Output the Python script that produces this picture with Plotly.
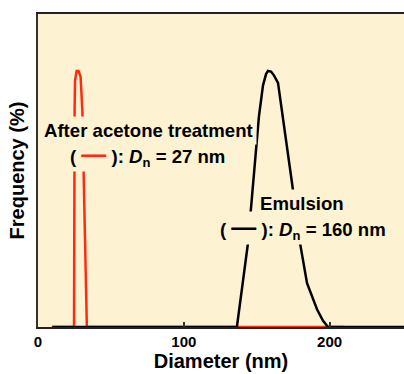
import plotly.graph_objects as go

# Data
acetone_x = [9.5, 24.7, 25.1, 25.4, 26.5, 27.8, 29.2, 30.4, 33.5, 210]
acetone_y = [0, 0, 17.3, 19.7, 20.45, 20.45, 20.0, 17.3, 0, 0]

emulsion_x = [9.8, 136.4, 144.0, 147.4, 151.5, 154.3, 156.4, 157.7, 159.8, 161.8,
              164.6, 174.2, 179.7, 184.5, 191.4, 195.5, 198.9, 251]
emulsion_y = [0, 0, 6.7, 11.5, 16.8, 19.3, 20.2, 20.45, 20.4, 20.1,
              19.5, 11.5, 6.7, 3.5, 1.4, 0.5, 0, 0]

tick_vals = [0, 100, 200]
tick_text = ["0", "100", "200"]

BG = "#fdf3d2"
RED = "#ff2a12"
FONT = "Liberation Sans, Arial, sans-serif"
AFS = 18.6

fig = go.Figure()
fig.add_trace(go.Scatter(x=acetone_x, y=acetone_y, mode="lines",
                         line=dict(color=RED, width=2.5), showlegend=False))
fig.add_trace(go.Scatter(x=emulsion_x, y=emulsion_y, mode="lines",
                         line=dict(color="black", width=2.5), showlegend=False))

# second lines first so that the first lines are drawn on top of their boxes
labels = [
    (74.9, 13.74, "<b>(&nbsp;<span style='color:%s;font-size:25px'>—</span>&nbsp;): <i>D</i><sub>n</sub> = 27 nm</b>" % RED, 1),
    (75.6, 15.73, "<b>After acetone treatment</b>", 3),
    (181.8, 7.91, "<b>(&nbsp;<span style='font-size:25px'>—</span>&nbsp;): <i>D</i><sub>n</sub> = 160 nm</b>", 1),
    (181.1, 9.90, "<b>Emulsion</b>", 3),
]
for lx, ly, txt, pad in labels:
    fig.add_annotation(x=lx, y=ly, xref="x", yref="y", showarrow=False,
                       text=txt, font=dict(family=FONT, size=AFS, color="black"),
                       bgcolor=BG, borderpad=pad, align="center")

fig.update_layout(
    width=404, height=374,
    margin=dict(l=38, r=0, t=14, b=47),
    paper_bgcolor="white", plot_bgcolor=BG,
    font=dict(family=FONT, color="black"),
    xaxis=dict(range=[0, 251], tickvals=tick_vals, ticktext=tick_text,
               ticks="inside", ticklen=5, tickwidth=1.5, tickcolor="#333",
               showline=True, linecolor="#222", linewidth=2, mirror=True,
               showgrid=False, zeroline=False, automargin=False,
               tickfont=dict(family=FONT, size=15, weight="bold", color="black"),
               title=dict(text="Diameter (nm)", standoff=2,
                          font=dict(family=FONT, size=20, weight="bold", color="black"))),
    yaxis=dict(range=[0, 25], showticklabels=False, ticks="",
               showline=True, linecolor="#333", linewidth=2,
               showgrid=False, zeroline=False, automargin=False,
               title=dict(text="Frequency (%)", standoff=6,
                          font=dict(family=FONT, size=20, weight="bold", color="black"))),
)

fig.write_html("out.html", config={"displayModeBar": False},
               post_script="document.body.style.margin='0';document.body.style.overflow='hidden';")
